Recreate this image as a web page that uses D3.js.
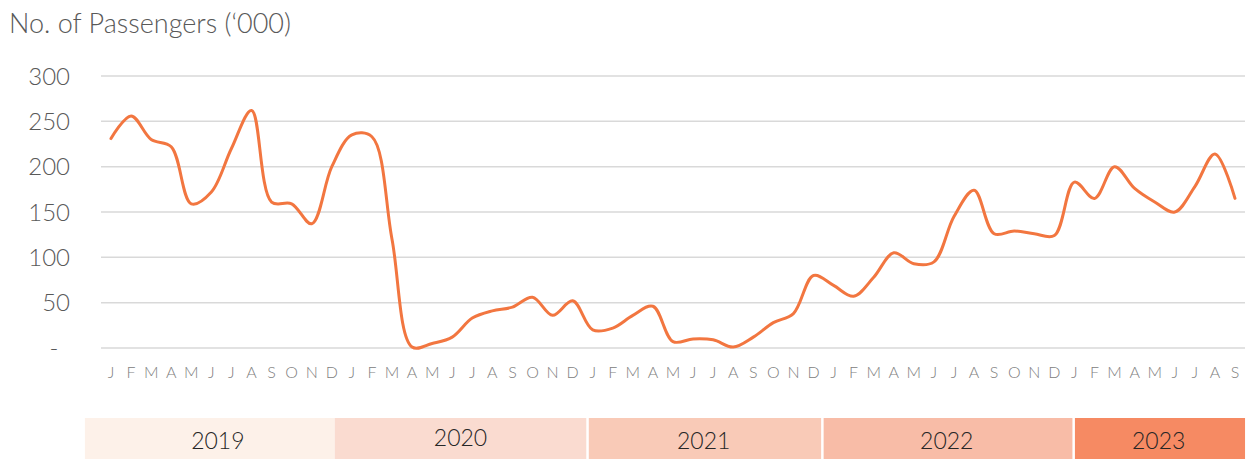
<!DOCTYPE html>
<html>
<head>
<meta charset="utf-8">
<script src="https://cdn.jsdelivr.net/npm/d3@7"></script>
<style>
  html, body { margin: 0; padding: 0; background: #fff; }
  svg { display: block; font-family: Lato, "Open Sans", sans-serif; }
</style>
</head>
<body>
<svg id="chart" width="1257" height="459"></svg>
<script>
// Monthly passengers ('000), Jan 2019 - Sep 2023
const values2019 = [231, 256, 230, 222, 159, 172, 220, 262, 161, 159, 137, 200];
const values2020 = [235, 233, 120, 1, 5, 12, 33, 41, 45, 56, 36, 52];
const values2021 = [20, 22, 36, 46, 7, 10, 9, 1, 12, 28, 38, 80];
const values2022 = [69, 57, 78, 105, 93, 95, 145, 174, 126, 129, 126, 124];
const values2023 = [183, 165, 200, 176, 161, 150, 178, 214, 165];

const monthLetters = ["J", "F", "M", "A", "M", "J", "J", "A", "S", "O", "N", "D"];
const years = ["2019", "2020", "2021", "2022", "2023"];
const yTicks = [0, 50, 100, 150, 200, 250, 300];
const yTickLabels = ["-", "50", "100", "150", "200", "250", "300"];
const titleText = "No. of Passengers (\u2018000)";

// year strip edges, in month units on the x scale (layout only)
const yearStripEdges = [-1.3, 11.15, 23.68, 35.38, 47.9, 56.5];
const yearStripColors = ["#fdf1e9", "#fadbd0", "#f9cab7", "#f8bca7", "#f68a63"];

const values = [...values2019, ...values2020, ...values2021, ...values2022, ...values2023];
const data = values.map((v, i) => ({ i, v, label: monthLetters[i % 12] }));

const svg = d3.select("#chart");

const x = d3.scaleLinear().domain([0, values.length - 1]).range([111, 1235]);
const y = d3.scaleLinear().domain([0, 300]).range([348, 76]);
const gridLeft = 101, gridRight = 1245;

// Title
svg.append("text")
  .attr("x", 9)
  .attr("y", 33)
  .attr("font-size", 27)
  .attr("font-weight", 300)
  .attr("fill", "#595959")
  .text(titleText);

// Grid lines
svg.append("g")
  .selectAll("line")
  .data(yTicks)
  .enter()
  .append("line")
  .attr("x1", gridLeft)
  .attr("x2", gridRight)
  .attr("y1", d => y(d))
  .attr("y2", d => y(d))
  .attr("stroke", "#d9d9d9")
  .attr("stroke-width", 1.5);

// Y labels
svg.append("g")
  .selectAll("text")
  .data(yTicks)
  .enter()
  .append("text")
  .attr("x", 70)
  .attr("y", d => y(d))
  .attr("dy", "0.36em")
  .attr("text-anchor", d => d === 0 ? "middle" : "end")
  .attr("dx", d => d === 0 ? -16 : 0)
  .attr("font-size", 24)
  .attr("font-weight", 300)
  .attr("fill", "#595959")
  .text((d, i) => yTickLabels[i]);

// Month labels
svg.append("g")
  .selectAll("text")
  .data(data)
  .enter()
  .append("text")
  .attr("x", d => x(d.i))
  .attr("y", 378)
  .attr("text-anchor", "middle")
  .attr("font-size", 16)
  .attr("font-weight", 300)
  .attr("fill", "#808080")
  .text(d => d.label);

// Line
const line = d3.line()
  .x(d => x(d.i))
  .y(d => y(d.v))
  .curve(d3.curveCatmullRom.alpha(0.5));

svg.append("path")
  .datum(data)
  .attr("d", line)
  .attr("fill", "none")
  .attr("stroke", "#f27640")
  .attr("stroke-width", 3)
  .attr("stroke-linejoin", "round")
  .attr("stroke-linecap", "round");

// Year strip
const strip = svg.append("g");
years.forEach((yr, k) => {
  const x0 = x(yearStripEdges[k]);
  const x1 = x(yearStripEdges[k + 1]);
  const gap = k === 0 ? 0 : 2.5;
  strip.append("rect")
    .attr("x", x0 + (k === 1 ? 0 : gap))
    .attr("y", 418)
    .attr("width", x1 - x0 - (k === 1 ? 0 : gap))
    .attr("height", 41)
    .attr("fill", yearStripColors[k]);
  strip.append("text")
    .attr("x", (x0 + x1) / 2 + (k === 0 ? 8 : 0))
    .attr("y", k === 1 ? 446 : 449)
    .attr("text-anchor", "middle")
    .attr("font-size", 23)
    .attr("font-weight", 300)
    .attr("fill", "#262626")
    .text(yr);
});
</script>
</body>
</html>
